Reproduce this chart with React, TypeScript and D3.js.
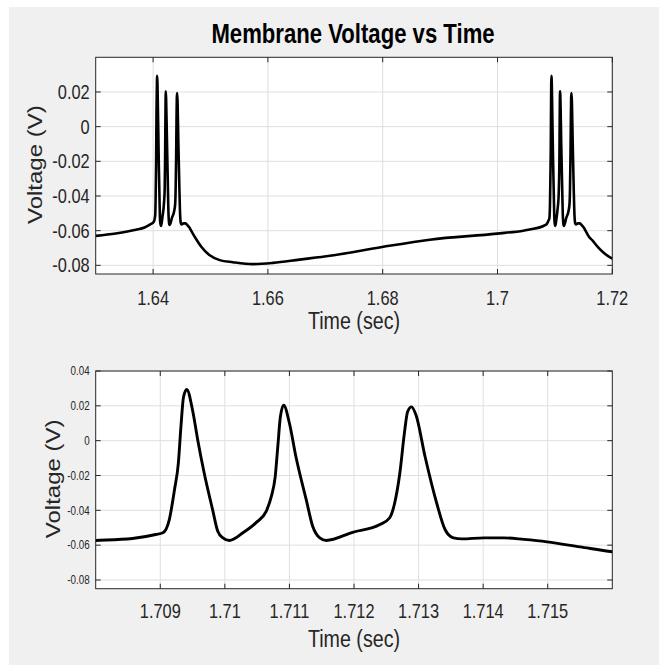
import React from 'react';
import * as d3 from 'd3';

// Membrane voltage trace (time in sec, voltage in V)
const time = [
  1.6300, 1.6335, 1.6370, 1.6385, 1.6395, 1.6401,
  1.64037, 1.64044, 1.64052, 1.64059, 1.64067, 1.64071, 1.64076, 1.64085, 1.6409, 1.64100,
  1.64114, 1.64121, 1.64132, 1.64140, 1.64163, 1.64189, 1.64202, 1.64209, 1.64216, 1.64221,
  1.64227, 1.64240, 1.64256, 1.64269, 1.64282, 1.64292, 1.64328, 1.64370, 1.64385, 1.64393,
  1.64401, 1.64408, 1.64413, 1.64419, 1.64426, 1.64440, 1.64458, 1.64471, 1.64484, 1.64497,
  1.64531, 1.64562, 1.64593, 1.64629, 1.64680, 1.64730,
  1.6484, 1.6498, 1.6516, 1.6539, 1.6574, 1.6609, 1.6655, 1.6708, 1.6799, 1.6882, 1.6999,
  1.7045, 1.7065, 1.7080, 1.70857, 1.70893,
  1.70904, 1.70914, 1.70922, 1.70928, 1.70932, 1.70936, 1.70941, 1.70950, 1.70958, 1.70968,
  1.70981, 1.70989, 1.70997, 1.71007, 1.71028, 1.71048, 1.71064, 1.71072, 1.71078, 1.71082,
  1.71086, 1.71091, 1.71100, 1.71110, 1.71126, 1.71136, 1.71147, 1.71157,
  1.71198, 1.71240, 1.71255, 1.71263,
  1.71271, 1.71278, 1.71283, 1.71289, 1.71296, 1.71310, 1.71328, 1.71341, 1.71354, 1.71367,
  1.71401, 1.71432, 1.71463, 1.71499, 1.71550, 1.71600,
  1.7165, 1.7175, 1.7185, 1.7200,
];
const voltage = [
  -0.0630, -0.0616, -0.0595, -0.0582, -0.0564, -0.0550,
  -0.0510, -0.0415, -0.0225, 0.0080, 0.0270, 0.0294, 0.0250, 0.0080, -0.0015, -0.0225,
  -0.0453, -0.0540, -0.0567, -0.0573, -0.0520, -0.0444, -0.0358, -0.0186, 0.0100, 0.0204,
  0.0157, -0.0053, -0.0320, -0.0510, -0.0564, -0.0567, -0.0526, -0.0482, -0.0444, -0.0358,
  -0.0186, 0.0042, 0.0166, 0.0194, 0.0147, -0.0091, -0.0358, -0.0510, -0.0558, -0.0564,
  -0.0558, -0.0558, -0.0567, -0.0581, -0.0610, -0.0638,
  -0.0693, -0.0741, -0.0770, -0.0782, -0.0793, -0.0786, -0.0767, -0.0745, -0.0694, -0.0652, -0.0617,
  -0.0600, -0.0588, -0.0573, -0.0562, -0.0539,
  -0.0529, -0.0453, -0.0282, -0.0129, 0.0080, 0.0251, 0.0294, 0.0175, 0.0004, -0.0186,
  -0.0396, -0.0520, -0.0558, -0.0573, -0.0529, -0.0472, -0.0406, -0.0320, -0.0206, -0.0034,
  0.0137, 0.0204, 0.0100, -0.0091, -0.0339, -0.0491, -0.0558, -0.0573,
  -0.0526, -0.0482, -0.0444, -0.0358,
  -0.0186, 0.0042, 0.0166, 0.0194, 0.0147, -0.0091, -0.0358, -0.0510, -0.0558, -0.0564,
  -0.0558, -0.0558, -0.0567, -0.0581, -0.0610, -0.0638,
  -0.0655, -0.0695, -0.0728, -0.0762,
];

const topXTicks = [1.64, 1.66, 1.68, 1.70, 1.72];
const topXLabels = ['1.64', '1.66', '1.68', '1.7', '1.72'];
const topYTicks = [-0.08, -0.06, -0.04, -0.02, 0, 0.02];
const topYLabels = ['-0.08', '-0.06', '-0.04', '-0.02', '0', '0.02'];
const botXTicks = [1.709, 1.710, 1.711, 1.712, 1.713, 1.714, 1.715];
const botXLabels = ['1.709', '1.71', '1.711', '1.712', '1.713', '1.714', '1.715'];
const botYTicks = [-0.08, -0.06, -0.04, -0.02, 0, 0.02, 0.04];
const botYLabels = ['-0.08', '-0.06', '-0.04', '-0.02', '0', '0.02', '0.04'];

const topXDomain = [1.63, 1.72];
const botXDomain = [1.708, 1.716];
const yDomain = [-0.085, 0.04];

const FONT = "'Liberation Sans', Arial, Helvetica, sans-serif";
const SX = 0.82;
const AX = '#262626';
const GRID = '#dfdfdf';

type TxtProps = { x: number; y: number; size: number; anchor?: string; weight?: string | number; rot?: boolean; fill?: string; children: React.ReactNode };
function Txt({ x, y, size, anchor = 'middle', weight = 'normal', rot = false, fill = AX, children }: TxtProps) {
  return (
    <text
      transform={`translate(${x},${y}) scale(${SX},1)${rot ? ' rotate(-90)' : ''}`}
      textAnchor={anchor}
      fontSize={size}
      fontWeight={weight}
      fontFamily={FONT}
      fill={fill}
    >
      {children}
    </text>
  );
}

type PanelProps = {
  id: string;
  left: number; right: number; top: number; bottom: number;
  xDomain: number[]; xTicks: number[]; xLabels: string[];
  yTicks: number[]; yLabels: string[];
  yFont: number; yLabelDy: number;
  xLabelBase: number; xTitleBase: number; yTitleX: number;
  lw: number;
};

function Panel(p: PanelProps) {
  const x = d3.scaleLinear().domain(p.xDomain).range([p.left, p.right]);
  const y = d3.scaleLinear().domain(yDomain).range([p.bottom, p.top]);
  const pts = time.map((t, i) => [t, voltage[i]] as [number, number]);
  const line = d3.line<[number, number]>().x(d => x(d[0])).y(d => y(d[1])).curve(d3.curveMonotoneX);
  const tl = 5;
  const cx = (p.left + p.right) / 2;
  const cy = (p.top + p.bottom) / 2;
  return (
    <g>
      <defs>
        <clipPath id={p.id}>
          <rect x={p.left} y={p.top} width={p.right - p.left} height={p.bottom - p.top} />
        </clipPath>
      </defs>
      <rect x={p.left} y={p.top} width={p.right - p.left} height={p.bottom - p.top} fill="#ffffff" />
      {p.xTicks.map(t => (
        <line key={'gx' + t} x1={x(t)} x2={x(t)} y1={p.top} y2={p.bottom} stroke={GRID} strokeWidth={1} />
      ))}
      {p.yTicks.map(t => (
        <line key={'gy' + t} x1={p.left} x2={p.right} y1={y(t)} y2={y(t)} stroke={GRID} strokeWidth={1} />
      ))}
      <path d={line(pts) || ''} fill="none" stroke="#000" strokeWidth={p.lw} strokeLinejoin="round" clipPath={`url(#${p.id})`} />
      <rect x={p.left} y={p.top} width={p.right - p.left} height={p.bottom - p.top} fill="none" stroke={AX} strokeWidth={1} />
      {p.xTicks.map(t => (
        <g key={'tx' + t}>
          <line x1={x(t)} x2={x(t)} y1={p.bottom} y2={p.bottom - tl} stroke={AX} />
          <line x1={x(t)} x2={x(t)} y1={p.top} y2={p.top + tl} stroke={AX} />
        </g>
      ))}
      {p.yTicks.map(t => (
        <g key={'ty' + t}>
          <line x1={p.left} x2={p.left + tl} y1={y(t)} y2={y(t)} stroke={AX} />
          <line x1={p.right} x2={p.right - tl} y1={y(t)} y2={y(t)} stroke={AX} />
        </g>
      ))}
      {p.xTicks.map((t, i) => (
        <Txt key={'lx' + t} x={x(t)} y={p.xLabelBase} size={20}>{p.xLabels[i]}</Txt>
      ))}
      {p.yTicks.map((t, i) => (
        <Txt key={'ly' + t} x={p.left - 6} y={y(t) + p.yLabelDy} size={p.yFont} anchor="end">{p.yLabels[i]}</Txt>
      ))}
      <Txt x={cx} y={p.xTitleBase} size={24}>Time (sec)</Txt>
      <Txt x={p.yTitleX} y={cy - 1} size={24} rot>Voltage (V)</Txt>
    </g>
  );
}

export default function App() {
  return (
    <svg width={660} height={666} style={{ position: 'absolute', left: 0, top: 0 }}>
      <rect x={0} y={0} width={660} height={666} fill="#ffffff" />
      <rect x={9} y={7} width={650} height={658} fill="#f0f0f0" />
      <Txt x={353} y={43} size={27} weight="bold" fill="#000">Membrane Voltage vs Time</Txt>
      <Panel
        id="clipTop"
        left={95.7} right={612.3} top={57.3} bottom={274}
        xDomain={topXDomain} xTicks={topXTicks} xLabels={topXLabels}
        yTicks={topYTicks} yLabels={topYLabels}
        yFont={20} yLabelDy={7}
        xLabelBase={305} xTitleBase={329} yTitleX={41.5}
        lw={2.6}
      />
      <Panel
        id="clipBot"
        left={95.7} right={612.3} top={371} bottom={588.7}
        xDomain={botXDomain} xTicks={botXTicks} xLabels={botXLabels}
        yTicks={botYTicks} yLabels={botYLabels}
        yFont={12} yLabelDy={4.3}
        xLabelBase={618} xTitleBase={647} yTitleX={60}
        lw={2.9}
      />
    </svg>
  );
}
